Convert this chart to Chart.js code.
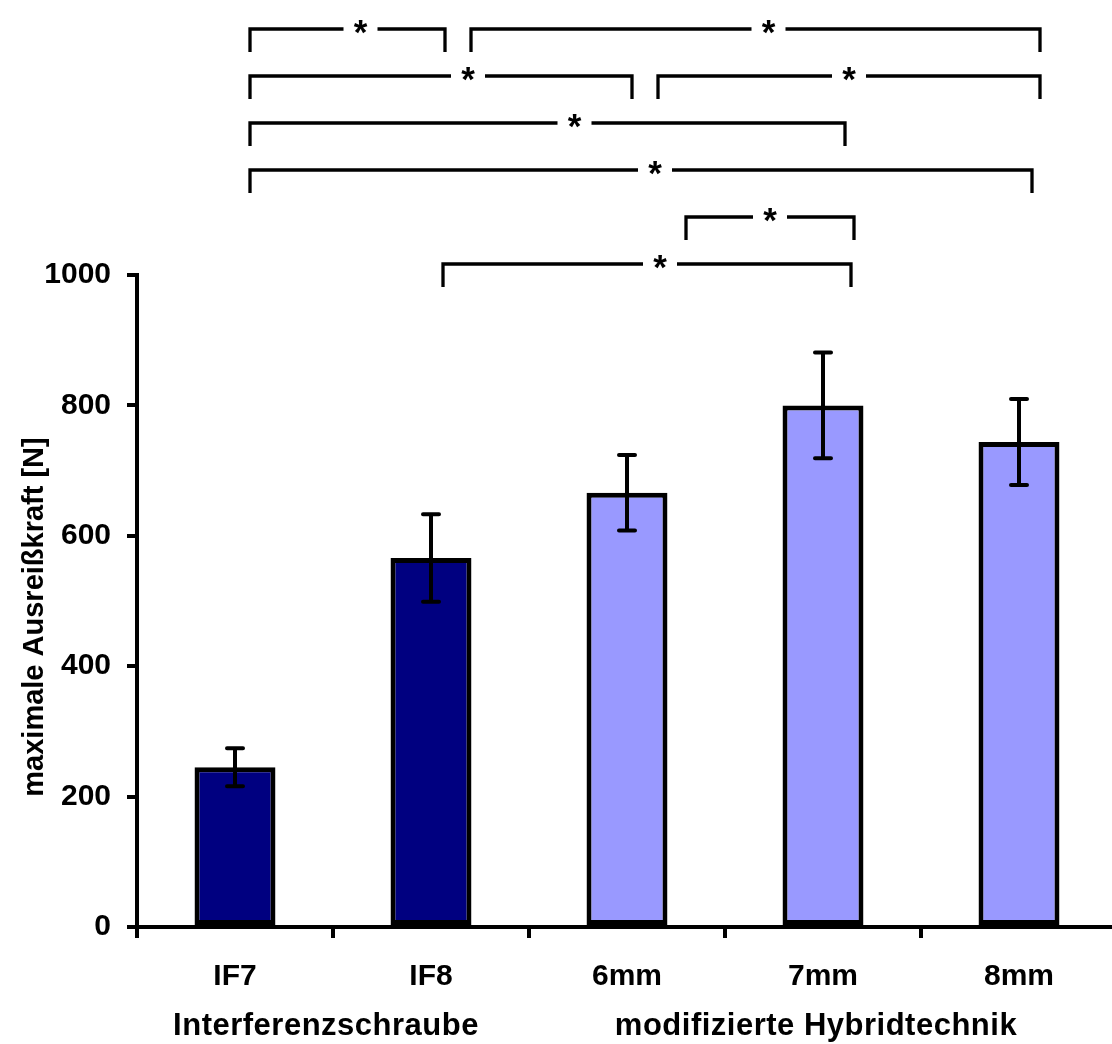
<!DOCTYPE html>
<html lang="de">
<head>
  <meta charset="UTF-8" />
  <title>maximale Ausreißkraft</title>
  <script src="https://cdn.jsdelivr.net/npm/chart.js"></script>
  <style>
    html, body { margin: 0; padding: 0; background: #ffffff; overflow: hidden; }
    #wrap { width: 1117px; height: 1044px; position: relative; }
  </style>
</head>
<body>
<div id="wrap">
  <canvas id="chart"></canvas>
</div>

<script>
  // data
  const categories = ['IF7', 'IF8', '6mm', '7mm', '8mm'];
  const meanForce = [245, 566, 666, 800, 744];
  const sdForce = [29, 67, 58, 81, 66];
  const barColors = ['#000080', '#000080', '#9999FF', '#9999FF', '#9999FF'];
  const yTicks = [0, 200, 400, 600, 800, 1000];
  const groupNames = ['Interferenzschraube', 'modifizierte Hybridtechnik'];
  const groupSpans = [[0, 1], [2, 4]];

  // significance brackets: [from, to, row, left nudge, right nudge, star nudge]
  const brackets = [
    [0, 1, 0, 15, 14, 13],
    [1, 4, 0, 40, 21, 13],
    [0, 2, 1, 15, 5, 27],
    [2, 4, 1, 31, 21, 0],
    [0, 3, 2, 15, 22, 27],
    [0, 4, 3, 15, 13, 14],
    [2, 3, 4, 59, 31, 0],
    [1, 3, 5, 12, 28, 13]
  ];

  const FONT = '"Liberation Sans", Arial, Helvetica, sans-serif';

  const extras = {
    id: 'extras',
    afterDatasetsDraw(chart) {
      const ctx = chart.ctx, x = chart.scales.x, y = chart.scales.y;
      ctx.save();
      ctx.strokeStyle = '#000';
      ctx.lineWidth = 4;
      ctx.lineCap = 'round';
      meanForce.forEach((m, i) => {
        const cx = x.getPixelForValue(i);
        const top = y.getPixelForValue(m + sdForce[i]);
        const bot = y.getPixelForValue(m - sdForce[i]);
        ctx.beginPath();
        ctx.moveTo(cx, top); ctx.lineTo(cx, bot);
        ctx.moveTo(cx - 8, top); ctx.lineTo(cx + 8, top);
        ctx.moveTo(cx - 8, bot); ctx.lineTo(cx + 8, bot);
        ctx.stroke();
      });
      ctx.restore();
    },
    afterDraw(chart) {
      const ctx = chart.ctx, x = chart.scales.x;
      ctx.save();
      ctx.fillStyle = '#000';
      ctx.strokeStyle = '#000';

      // brackets
      ctx.lineWidth = 3.3;
      ctx.lineCap = 'butt';
      ctx.font = 'bold 35px ' + FONT;
      ctx.textAlign = 'center';
      ctx.textBaseline = 'middle';
      brackets.forEach(([a, b, row, dl, dr, ds]) => {
        const x1 = x.getPixelForValue(a) + dl;
        const x2 = x.getPixelForValue(b) + dr;
        const yy = 29 + row * 47;
        const sx = (x1 + x2) / 2 + ds;
        ctx.beginPath();
        ctx.moveTo(x1, yy + 23); ctx.lineTo(x1, yy); ctx.lineTo(sx - 17, yy);
        ctx.moveTo(sx + 17, yy); ctx.lineTo(x2, yy); ctx.lineTo(x2, yy + 23);
        ctx.stroke();
        ctx.fillText('*', sx, yy + 5);
      });

      // group labels under the categories
      ctx.font = 'bold 31px ' + FONT;
      ctx.textBaseline = 'alphabetic';
      ctx.letterSpacing = '0.5px';
      groupNames.forEach((g, i) => {
        const [a, b] = groupSpans[i];
        const cx = (x.getPixelForValue(a) + x.getPixelForValue(b)) / 2 - 7;
        ctx.fillText(g, cx, 1035);
      });

      // y title
      ctx.letterSpacing = '0px';
      ctx.font = 'bold 29px ' + FONT;
      ctx.translate(43, 617);
      ctx.rotate(-Math.PI / 2);
      ctx.fillText('maximale Ausreißkraft [N]', 0, 0);
      ctx.restore();
    }
  };

  new Chart(document.getElementById('chart'), {
    type: 'bar',
    data: {
      labels: categories,
      datasets: [{
        data: meanForce,
        backgroundColor: barColors,
        borderColor: '#000',
        borderWidth: 5,
        borderSkipped: false,
        barPercentage: 0.413,
        categoryPercentage: 1
      }]
    },
    options: {
      responsive: true,
      maintainAspectRatio: false,
      animation: false,
      layout: { padding: { top: 275, right: 0, bottom: 0, left: 0 } },
      plugins: { legend: { display: false }, tooltip: { enabled: false } },
      scales: {
        x: {
          afterFit: s => { s.height = 117; },
          border: { color: '#000', width: 4 },
          grid: { drawOnChartArea: false, color: '#000', lineWidth: 4, tickLength: 11 },
          ticks: { color: '#000', font: { family: FONT, size: 30, weight: 'bold' }, padding: 21 }
        },
        y: {
          min: 0,
          max: 1000,
          afterFit: s => { s.width = 137; },
          afterBuildTicks: s => { s.ticks = yTicks.map(v => ({ value: v })); },
          border: { color: '#000', width: 4 },
          grid: { drawOnChartArea: false, color: '#000', lineWidth: 4, tickLength: 10 },
          ticks: {
            color: '#000',
            font: { family: FONT, size: 30, weight: 'bold' },
            padding: 16,
            callback: v => String(v)
          }
        }
      }
    },
    plugins: [extras]
  });
</script>
</body>
</html>
